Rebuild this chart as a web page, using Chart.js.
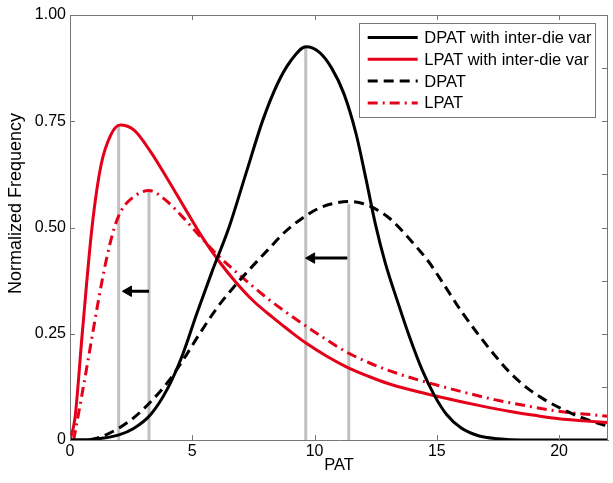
<!DOCTYPE html>
<html><head><meta charset="utf-8">
<script src="https://cdn.jsdelivr.net/npm/chart.js@4/dist/chart.umd.min.js"></script>
<style>
html,body{margin:0;padding:0;background:#fff;overflow:hidden;}
#wrap{width:613px;height:483px;overflow:hidden;position:relative;}
#inner{width:615px;height:483px;position:absolute;left:0;top:0;}
</style></head><body>
<div id="wrap"><div id="inner"><canvas id="c"></canvas></div></div>
<script>
// ---- data ----
const seriesNames = ['DPAT with inter-die var', 'LPAT with inter-die var', 'DPAT', 'LPAT'];
const dpatInterDie = [[0,0],[1,0.002],[2,0.012],[2.6,0.027],[3.3,0.06],[4.0,0.122],[4.6,0.2],[5.2,0.3],[5.8,0.395],[6.5,0.5],[7.2,0.628],[7.9,0.755],[8.5,0.84],[9.0,0.89],[9.65,0.925],[10.2,0.912],[10.7,0.875],[11.2,0.815],[11.7,0.72],[12.1,0.615],[12.5,0.505],[12.9,0.415],[13.4,0.325],[13.9,0.24],[14.4,0.165],[14.9,0.105],[15.4,0.06],[16.0,0.028],[16.7,0.01],[17.5,0.003],[18.5,0],[22,0]];
const lpatInterDie = [[0,0],[0.2,0.05],[0.5,0.25],[0.9,0.5],[1.27,0.647],[1.67,0.718],[2.05,0.741],[2.62,0.729],[3.3,0.678],[4.0,0.613],[4.7,0.545],[5.4,0.478],[6.1,0.42],[6.8,0.37],[7.5,0.327],[8.3,0.288],[9.0,0.256],[9.65,0.228],[10.5,0.197],[11.34,0.171],[12.2,0.15],[13.0,0.133],[14.0,0.117],[15.0,0.103],[16.0,0.09],[17.0,0.078],[18.0,0.067],[19.0,0.058],[20.0,0.05],[21.0,0.045],[22,0.041]];
const dpat = [[0.8,0],[1.3,0.008],[2.0,0.028],[2.6,0.052],[3.3,0.09],[4.0,0.136],[4.6,0.186],[5.3,0.25],[6.0,0.31],[6.7,0.36],[7.4,0.405],[8.1,0.448],[8.8,0.49],[9.5,0.522],[10.2,0.546],[10.9,0.558],[11.4,0.561],[12.0,0.556],[12.6,0.54],[13.1,0.52],[13.7,0.485],[14.2,0.452],[14.66,0.42],[15.3,0.365],[16.0,0.303],[16.7,0.248],[17.36,0.2],[18.0,0.158],[18.7,0.122],[19.4,0.095],[20.05,0.075],[20.9,0.053],[21.8,0.036],[22,0.033]];
const lpat = [[0.15,0],[0.39,0.075],[0.73,0.185],[1.13,0.318],[1.47,0.42],[1.81,0.499],[2.1,0.54],[2.62,0.573],[3.23,0.587],[3.9,0.565],[4.6,0.525],[5.3,0.48],[6.0,0.437],[6.7,0.4],[7.4,0.365],[8.1,0.332],[8.8,0.302],[9.5,0.274],[10.3,0.243],[11.34,0.206],[12.3,0.18],[13.36,0.157],[14.64,0.135],[16.0,0.114],[17.36,0.095],[18.7,0.08],[20.05,0.067],[22,0.056]];
// gray markers at the peaks: [x, height]
const peakMarkers = [[1.99,0.738],[3.23,0.587],[9.64,0.923],[11.40,0.555]];
// arrows: [fromX, toX, y]
const shiftArrows = [[3.23,2.39,0.35],[11.34,9.88,0.428]];
const xTicks = [0,5,10,15,20];
const yTicks = [0,0.25,0.5,0.75,1];
const yTickLabels = ['0','0.25','0.50','0.75','1.00'];
const rightTicks = [0,0.125,0.25,0.375,0.5,0.625,0.75,0.875,1];
const xTitle = 'PAT';
const yTitle = 'Normalized Frequency';

const RED = '#e5001a';
const FAMILY = '"Liberation Sans", Arial, Helvetica, sans-serif';
const TICK_FONT = {family: FAMILY, size: 16};
const LEGEND_SIZE = 16.5;
const YTITLE_SIZE = 18;
const toXY = a => a.map(([x,y]) => ({x, y}));

const curve = (label, pts, color, dash, width) => ({
  label, data: toXY(pts), borderColor: color, borderWidth: width, borderDash: dash,
  pointRadius: 0, cubicInterpolationMode: 'monotone', fill: false, order: 1, inLegend: true
});

const datasets = [
  curve(seriesNames[0], dpatInterDie, '#000', [], 3),
  curve(seriesNames[1], lpatInterDie, RED, [], 3),
  curve(seriesNames[2], dpat, '#000', [10,6], 3),
  curve(seriesNames[3], lpat, RED, [10,5,2,5], 3)
];
peakMarkers.forEach(([x,h]) => datasets.push({
  label: '', data: [{x, y:0},{x, y:h}], borderColor: '#c0c0c0', borderWidth: 3,
  pointRadius: 0, order: 3, fill: false
}));
shiftArrows.forEach(([x0,x1,y]) => datasets.push({
  label: '', data: [{x:x0, y},{x:x1, y}], borderColor: '#000', borderWidth: 3,
  pointRadius: [0,6], pointStyle: 'triangle', pointRotation: 270,
  pointBackgroundColor: '#000', pointBorderColor: '#000', pointBorderWidth: 1, order: 2, fill: false
}));

const frameTicks = {
  id: 'frameTicks',
  afterDatasetsDraw(chart) {
    const {ctx, chartArea: a, scales: {x, y}} = chart;
    ctx.save();
    ctx.strokeStyle = '#777'; ctx.lineWidth = 1; ctx.beginPath();
    ctx.moveTo(a.left, a.top + 0.5); ctx.lineTo(a.right, a.top + 0.5);
    ctx.moveTo(a.right - 0.5, a.top); ctx.lineTo(a.right - 0.5, a.bottom);
    xTicks.forEach(v => { const p = Math.round(x.getPixelForValue(v)) + 0.5;
      ctx.moveTo(p, a.bottom); ctx.lineTo(p, a.bottom - 5);
      ctx.moveTo(p, a.top); ctx.lineTo(p, a.top + 5); });
    yTicks.forEach(v => { const p = Math.round(y.getPixelForValue(v)) + 0.5;
      ctx.moveTo(a.left, p); ctx.lineTo(a.left + 5, p); });
    rightTicks.forEach(v => { const p = Math.round(y.getPixelForValue(v)) + 0.5;
      ctx.moveTo(a.right, p); ctx.lineTo(a.right - 6, p); });
    ctx.stroke();
    // y axis title (placed as in the reference: slightly above the axis centre)
    ctx.fillStyle = '#000';
    ctx.font = YTITLE_SIZE + 'px ' + FAMILY;
    ctx.translate(21, (a.top + a.bottom) / 2 - 24);
    ctx.rotate(-Math.PI / 2);
    ctx.textAlign = 'center'; ctx.textBaseline = 'alphabetic';
    ctx.fillText(yTitle, 0, 0);
    ctx.restore();
  }
};

const boxLegend = {
  id: 'boxLegend',
  afterDraw(chart) {
    const {ctx, chartArea: a} = chart;
    const items = chart.data.datasets.filter(d => d.inLegend);
    ctx.save();
    ctx.font = LEGEND_SIZE + 'px ' + FAMILY;
    const textW = Math.max(...items.map(d => ctx.measureText(d.label).width));
    const pad = 8.7, lineLen = 50, gap = 6.6, rowH = 21.8, edge = 14.5;
    const boxW = pad + lineLen + gap + textW + 3.5;
    const boxH = edge * 2 + rowH * (items.length - 1);
    const boxRight = a.right - 13, boxTop = a.top + 8;
    const boxLeft = Math.round(boxRight - boxW);
    ctx.fillStyle = '#fff'; ctx.fillRect(boxLeft, boxTop, boxW, boxH);
    ctx.strokeStyle = '#777'; ctx.lineWidth = 1;
    ctx.strokeRect(boxLeft + 0.5, boxTop + 0.5, Math.round(boxW), Math.round(boxH));
    items.forEach((d, i) => {
      const yy = boxTop + edge + i * rowH;
      ctx.beginPath(); ctx.setLineDash(d.borderDash || []);
      ctx.strokeStyle = d.borderColor; ctx.lineWidth = d.borderWidth;
      ctx.moveTo(boxLeft + pad, yy); ctx.lineTo(boxLeft + pad + lineLen, yy); ctx.stroke();
      ctx.setLineDash([]);
      ctx.fillStyle = '#000'; ctx.textBaseline = 'middle'; ctx.textAlign = 'left';
      ctx.fillText(d.label, boxLeft + pad + lineLen + gap, yy + 1);
    });
    ctx.restore();
  }
};

new Chart(document.getElementById('c'), {
  type: 'line',
  data: { datasets },
  options: {
    responsive: true, maintainAspectRatio: false, animation: false, devicePixelRatio: 1,
    layout: { padding: { top: 15, right: 1, left: 0, bottom: 0 } },
    plugins: { legend: { display: false }, tooltip: { enabled: false } },
    scales: {
      x: {
        type: 'linear', min: 0, max: 22,
        afterBuildTicks: s => { s.ticks = xTicks.map(v => ({value: v})); },
        ticks: { font: TICK_FONT, color: '#000', padding: 2, maxRotation: 0, callback: v => String(v) },
        grid: { display: false, drawTicks: false },
        border: { display: true, color: '#777', width: 1 },
        title: { display: true, text: xTitle, font: {family: FAMILY, size: 16.5}, color: '#000', padding: { top: 0, bottom: 8 } },
        afterFit: s => { s.height = 43; }
      },
      y: {
        type: 'linear', min: 0, max: 1,
        afterBuildTicks: s => { s.ticks = yTicks.map(v => ({value: v})); },
        ticks: { font: TICK_FONT, color: '#000', padding: 4, callback: v => yTickLabels[yTicks.indexOf(v)] },
        grid: { display: false, drawTicks: false },
        border: { display: true, color: '#777', width: 1 },
        title: { display: false },
        afterFit: s => { s.width = 70; }
      }
    }
  },
  plugins: [frameTicks, boxLegend]
});
</script>
</body></html>
